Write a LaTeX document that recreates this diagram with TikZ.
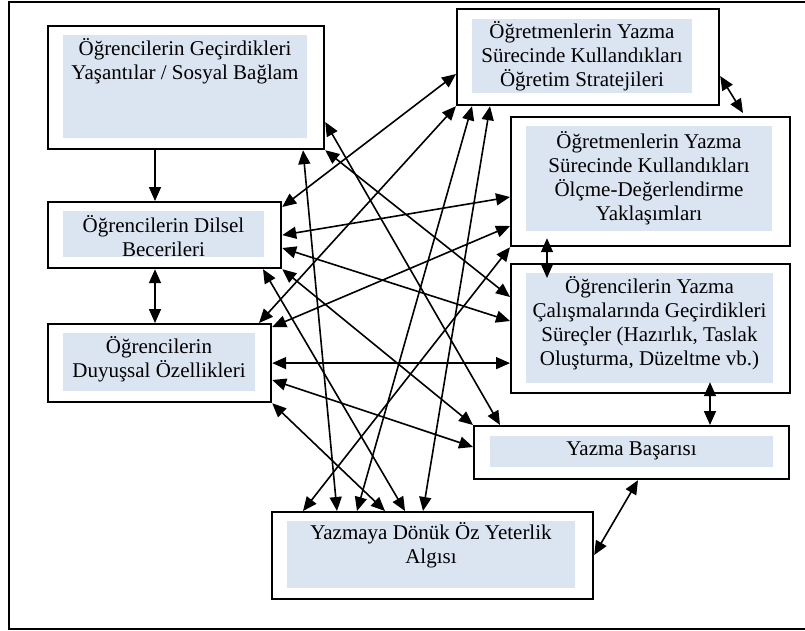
\documentclass[tikz,border=0pt]{standalone}
\usepackage{fontspec}
\setmainfont{Liberation Serif}
\usetikzlibrary{arrows.meta}
\definecolor{panelblue}{HTML}{DBE5F1}

\begin{document}
\begin{tikzpicture}[x=1pt, y=-1pt,
  box/.style={draw, line width=2.2pt, fill=white, inner sep=0pt, anchor=north west},
  panel/.style={fill=panelblue, inner sep=0pt, anchor=north west},
  caption/.style={align=center, inner sep=0pt, font=\fontsize{21}{24}\selectfont},
  link/.style={line width=1.6pt, {Triangle[length=14pt,width=12pt]}-{Triangle[length=14pt,width=12pt]}},
  feed/.style={line width=1.6pt, -{Triangle[length=14pt,width=12pt]}}]
  \useasboundingbox (0,0) rectangle (805,630);
  \clip (0,0) rectangle (805,630);
  \draw[line width=2pt] (830,2) -- (9,2) -- (9,629) -- (830,629);

  \node[box, minimum width=276pt, minimum height=123pt] (expsoc) at (47,25) {};
  \node[panel, minimum width=244pt, minimum height=103pt] (expsocbg) at (63,35) {};
  \node[caption] (expsoctext) at (185,61) {Öğrencilerin Geçirdikleri\\Yaşantılar / Sosyal Bağlam};

  \node[box, minimum width=233pt, minimum height=66pt] (lang) at (47,201) {};
  \node[panel, minimum width=201pt, minimum height=46pt] (langbg) at (63,211) {};
  \node[caption] (langtext) at (163.5,236) {Öğrencilerin Dilsel\\Becerileri};

  \node[box, minimum width=223pt, minimum height=78pt] (affect) at (47,323) {};
  \node[panel, minimum width=192pt, minimum height=58pt] (affectbg) at (63,333) {};
  \node[caption] (affecttext) at (159,359.5) {Öğrencilerin\\Duyuşsal Özellikleri};

  \node[box, minimum width=321pt, minimum height=87pt] (selfeff) at (271,511) {};
  \node[panel, minimum width=288pt, minimum height=67pt] (selfeffbg) at (287,521) {};
  \node[caption] (selfefftext) at (431,545) {Yazmaya Dönük Öz Yeterlik\\Algısı};

  \node[box, minimum width=262pt, minimum height=96pt] (strat) at (456,8) {};
  \node[panel, minimum width=220pt, minimum height=74pt] (stratbg) at (472,19) {};
  \node[caption] (strattext) at (582,56) {Öğretmenlerin Yazma\\Sürecinde Kullandıkları\\Öğretim Stratejileri};

  \node[box, minimum width=279pt, minimum height=129pt] (assess) at (510,116) {};
  \node[panel, minimum width=246pt, minimum height=105pt] (assessbg) at (526,126) {};
  \node[caption] (assesstext) at (649,178) {Öğretmenlerin Yazma\\Sürecinde Kullandıkları\\Ölçme-Değerlendirme\\Yaklaşımları};

  \node[box, minimum width=279pt, minimum height=129pt] (process) at (510,263) {};
  \node[panel, minimum width=247pt, minimum height=110pt] (processbg) at (526,273) {};
  \node[caption] (processtext) at (649.5,323) {Öğrencilerin Yazma\\Çalışmalarında Geçirdikleri\\Süreçler (Hazırlık, Taslak\\Oluşturma, Düzeltme vb.)};

  \node[box, minimum width=315pt, minimum height=53pt] (success) at (473,425) {};
  \node[panel, minimum width=283pt, minimum height=31pt] (successbg) at (490,436) {};
  \node[caption] (successtext) at (631.5,451) {Yazma Başarısı};

  \draw[feed] ([xshift=108pt]expsoc.south west) -- ([xshift=108pt]lang.north west);
  \draw[link] ([xshift=108pt]lang.south west) -- ([xshift=108pt]affect.north west);
  \draw[link] ([yshift=-68pt]strat.north east) -- ([xshift=233pt,yshift=3pt]assess.north west);
  \draw[link] ([xshift=37pt,yshift=9pt]assess.south west) -- ([xshift=37pt,yshift=-15pt]process.north west);
  \draw[link] ([xshift=200pt,yshift=12pt]process.south west) -- ([xshift=237pt]success.north west);
  \draw[link] ([xshift=165pt]success.south west) -- ([yshift=-44pt]selfeff.north east);
  \draw[link] (affect.east) -- (affect.east -| process.west);
  \draw[link] ([yshift=-97pt]expsoc.north east) -- ([xshift=27pt]success.north west);
  \draw[link] ([xshift=256pt]expsoc.south west) -- ([xshift=66pt]selfeff.north west);
  \draw[link] (expsoc.south east) -- ([yshift=-34pt]process.north west);
  \draw[link] ([yshift=-6pt]lang.north east) -- ([yshift=-66pt]strat.north west);
  \draw[link] (lang.east) -- ([yshift=-81pt]assess.north west);
  \draw[link] ([yshift=-47pt]lang.north east) -- ([yshift=-58pt]process.north west);
  \draw[link] ([xshift=216pt]lang.south west) -- ([xshift=134pt]selfeff.north west);
  \draw[link] (lang.south east) -- (success.north west);
  \draw[link] ([xshift=212pt]affect.north west) -- (strat.south west);
  \draw[link] ([yshift=-4pt]affect.north east) -- ([yshift=-110pt]assess.north west);
  \draw[link] ([yshift=-57pt]affect.north east) -- ([yshift=-22pt]success.north west);
  \draw[link] (affect.south east) -- ([xshift=114pt]selfeff.north west);
  \draw[link] ([xshift=16pt]strat.south west) -- ([xshift=86pt]selfeff.north west);
  \draw[link] ([xshift=34pt]strat.south west) -- ([xshift=152pt]selfeff.north west);
  \draw[link] (assess.south west) -- ([xshift=32pt]selfeff.north west);
\end{tikzpicture}
\end{document}
